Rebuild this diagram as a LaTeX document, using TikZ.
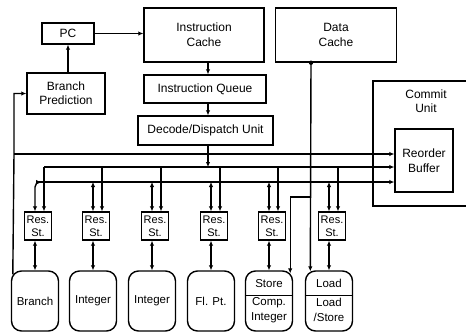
\documentclass[tikz,border=0pt]{standalone}
\usepackage{fontspec}
\setmainfont{Liberation Sans}
\usetikzlibrary{arrows.meta,calc}
\begin{document}
\begin{tikzpicture}[x=1pt,y=-1pt,
  >={Latex[length=5pt,width=4.5pt]},
  box/.style={draw, line width=1.4pt, inner sep=1pt, align=center, font=\fontsize{12}{15}\selectfont},
  resbox/.style={draw, line width=1.4pt, inner sep=0pt, minimum width=27pt, minimum height=28pt, align=center, font=\fontsize{11}{13}\selectfont},
  fubox/.style={draw, line width=1.4pt, rounded corners=10pt, minimum width=47pt, minimum height=60pt, inner sep=0pt},
  futext/.style={inner sep=0pt, align=center, font=\fontsize{11.5}{15}\selectfont},
  conn/.style={line width=1.4pt},
  divider/.style={line width=0.9pt}
]
\useasboundingbox (0,0) rectangle (466,333);
\fill[white] (0,0) rectangle (466,333);

% upper boxes
\node[box, minimum width=52pt, minimum height=21pt] (pc) at (68,33.5) {PC};
\node[box, minimum width=120pt, minimum height=54pt] (ic) at (204,35) {Instruction\\Cache};
\node[box, minimum width=121pt, minimum height=54pt] (dc) at (336,35) {Data\\Cache};
\node[box, minimum width=78pt, minimum height=41pt, font=\fontsize{12}{14}\selectfont] (bp) at (66,93.5) {Branch\\Prediction};
\node[box, minimum width=122pt, minimum height=28pt] (iq) at (205,89) {Instruction Queue};
\node[box, minimum width=135pt, minimum height=29pt] (dec) at (205.5,130.5) {Decode/Dispatch Unit};

% commit unit
\node[draw, line width=1.4pt, inner sep=0pt, minimum width=95pt, minimum height=125pt] (cu) at (420.5,143.5) {};
\node[inner sep=0pt, align=center, font=\fontsize{12}{14}\selectfont] (cut) at (426,101) {Commit\\Unit};
\node[box, minimum width=58pt, minimum height=63pt] (rob) at (424,160.5) {Reorder\\Buffer};

% reservation stations and functional units
\foreach \i/\c in {1/35, 2/93, 3/152, 4/211, 5/269, 6/329} {
  \node[resbox] (r\i) at (\c+3,226) {Res.\\St.};
  \node[fubox] (fu\i) at (\c,301) {};
}
\node[futext] (t1) at (fu1.center) {Branch};
\node[futext] (t2) at (fu2.center) {Integer};
\node[futext] (t3) at (fu3.center) {Integer};
\node[futext] (t4) at (fu4.center) {Fl. Pt.};
\coordinate (dv) at (0,295);
\draw[divider] (fu5.west |- dv) -- (fu5.east |- dv);
\draw[divider] (fu6.west |- dv) -- (fu6.east |- dv);
\node[futext] (t5a) at (269,283.5) {Store};
\node[futext] (t5b) at (269,310) {Comp.\\Integer};
\node[futext] (t6a) at (329,283.5) {Load};
\node[futext] (t6b) at (329,310) {Load\\/Store};

% coordinates
\coordinate (v) at (208,0);
\coordinate (aL) at (14,154);
\coordinate (bL) at (44,167);
\coordinate (cL) at (39,182);
\coordinate (dcx) at (311,0);
\coordinate (j) at (311,197);

% front end connectors
\draw[conn,->] (pc.east) -- (pc.east -| ic.west);
\draw[conn,->] (pc.south |- bp.north) -- (pc.south);
\draw[conn,->] (ic.south -| v) -- (iq.north -| v);
\draw[conn,->] (iq.south -| v) -- (dec.north -| v);
\draw[conn,->] (dec.south -| v) -- (bL -| v);

% bus A (branch results)
\draw[conn,->] ($(fu1.north west)+(2,4)$) -- (aL) |- (bp.west);
\draw[conn,->] (aL) -- (aL -| rob.west);
% bus B
\draw[conn,->] (bL) -- (bL -| rob.west);
% bus C
\draw[conn,->] (cL) -- (cL -| rob.west);

\foreach \i in {1,...,6} {
  \path ($(r\i.north)+(6,0)$) coordinate (rt\i);
  \path ($(r\i.north)+(-3,0)$) coordinate (lt\i);
  \draw[conn,->] (rt\i |- bL) -- (rt\i);
  \draw[conn,<->] (lt\i |- r\i.south) -- (lt\i |- fu\i.north);
}
\draw[conn,<->, rounded corners=5pt] ($(lt1 |- cL)+(6,0)$) -| (lt1);
\foreach \i in {2,...,6} {
  \draw[conn,<->] (lt\i |- cL) -- (lt\i);
}

% data cache
\fill (dc.south -| dcx) circle (2.2pt);
\draw[conn,->] (dc.south -| dcx) -- ($(fu6.north west)+(5.5,1)$);
\draw[conn,->] (j) -| ($(fu5.north east)+(-3,3)$);
\end{tikzpicture}
\end{document}
